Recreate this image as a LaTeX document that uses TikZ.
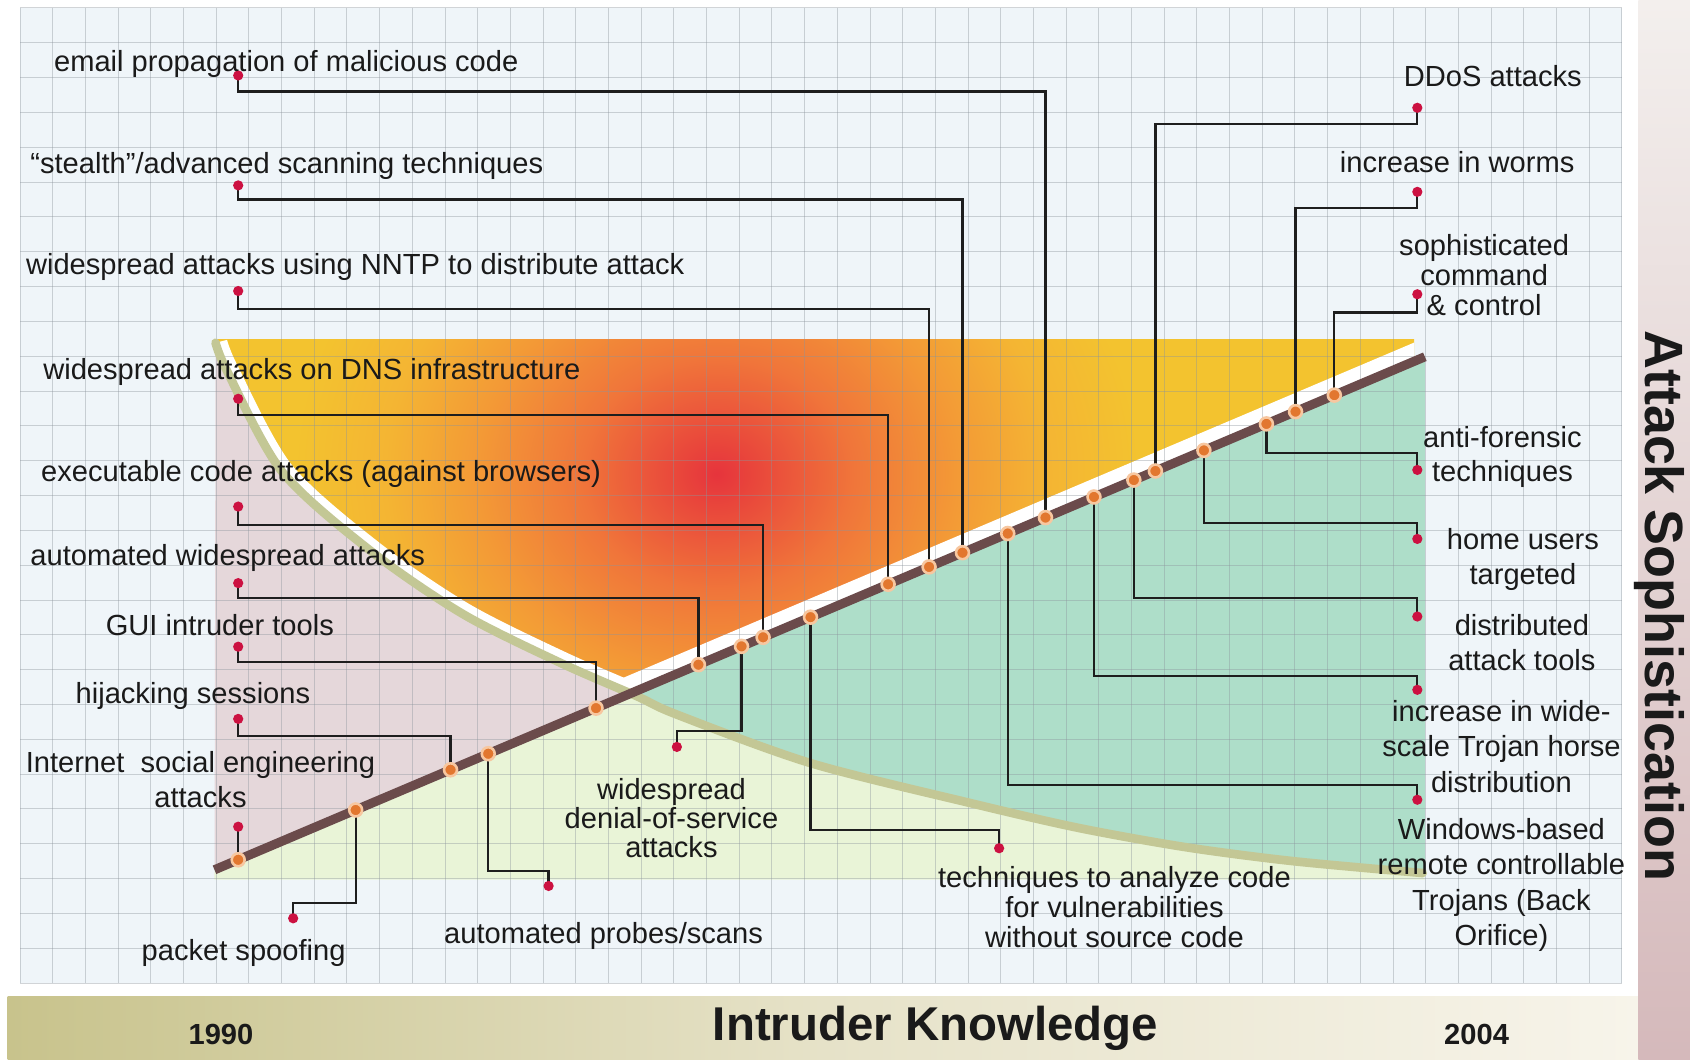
\documentclass[tikz,border=0pt]{standalone}
\usepackage{fontspec}
\setmainfont{Liberation Sans}
\usetikzlibrary{calc}

\definecolor{gridbg}{HTML}{EFF5F9}
\definecolor{gridln}{HTML}{8C949C}
\definecolor{pinkreg}{HTML}{E5D7DA}
\definecolor{tealreg}{HTML}{AEDEC9}
\definecolor{limereg}{HTML}{E9F4D7}
\definecolor{hred}{HTML}{E6343C}
\definecolor{hredb}{HTML}{EA4E3B}
\definecolor{horange}{HTML}{F0753A}
\definecolor{hamber}{HTML}{F39A36}
\definecolor{hgold}{HTML}{F4B533}
\definecolor{hyellow}{HTML}{F3C32F}
\definecolor{trend}{HTML}{6B4B4B}
\definecolor{olive}{HTML}{C3C795}
\definecolor{pinred}{HTML}{CC1141}
\definecolor{knotfill}{HTML}{E2772F}
\definecolor{knotring}{HTML}{F7C7A0}
\definecolor{wirec}{HTML}{1E1E1E}
\definecolor{ink}{HTML}{1A1A1A}
\definecolor{barL}{HTML}{C8C38C}
\definecolor{barM}{HTML}{E6E2C8}
\definecolor{barR}{HTML}{F7F4EA}
\definecolor{sideT}{HTML}{F3EFED}
\definecolor{sideB}{HTML}{D5B9BB}

\pgfdeclareradialshading{hotspot}{\pgfpointorigin}{color(0bp)=(hred); color(1.8bp)=(hredb); color(4.5bp)=(horange); color(8bp)=(hamber); color(11bp)=(hgold); color(14bp)=(hyellow); color(50bp)=(hyellow)}

\pgfdeclarelayer{back}
\pgfdeclarelayer{wires}
\pgfsetlayers{back,wires,main}

% centred multi-line label whose baseline is the first line
\newcommand\stacked[2]{\vtop{\fontsize{27}{#1}\selectfont\halign{\hfil##\hfil\cr#2\crcr}}}
% the falling boundary curve
\def\curvepath{plot[smooth] coordinates {(200,318) (211,345) (262,438) (345,512) (430,570) (520,615) (591,646) (628,663) (752,708) (900,745) (1000,768) (1100,786) (1200,799) (1320,810)}}

\begin{document}
\begin{tikzpicture}[x=1pt,y=-1pt,
  gridline/.style={draw=gridln, line width=0.9pt, opacity=0.4},
  wire/.style={draw=wirec, line width=2.1pt},
  pin/.style={circle, fill=pinred, inner sep=0pt, minimum size=9.5pt},
  knot/.style={circle, fill=knotfill, draw=knotring, line width=2.4pt, inner sep=0pt, minimum size=12pt},
  lbl/.style={font=\fontsize{27}{28}\selectfont, text=ink, inner sep=0pt},
  yearlbl/.style={font=\bfseries\fontsize{27}{27}\selectfont, text=ink, inner sep=0pt, anchor=base}]

\useasboundingbox (0,0) rectangle (1568,983);

\begin{pgfonlayer}{back}
  \fill[white] (0,0) rectangle (1568,983);
  % grid paper
  \fill[gridbg] (18.6,7.4) rectangle (1505,912);

  % pink region: above the trend line, left of the curve
  \begin{scope}
    \clip (199,807) -- (1322,331) -- (1322,290) -- (199,290) -- cycle;
    \fill[pinkreg] \curvepath -- (199,820) -- cycle;
  \end{scope}
  % teal region: below the trend line, above the curve
  \begin{scope}
    \clip (199,807) -- (1322,331) -- (1322,830) -- (199,830) -- cycle;
    \fill[tealreg] \curvepath -- (1322,810) -- (1322,300) -- (199,300) -- cycle;
  \end{scope}
  % light green region: below both
  \begin{scope}
    \clip (199,807) -- (1322,331) -- (1322,816) -- (199,816) -- cycle;
    \fill[limereg] \curvepath -- (1322,816) -- (199,816) -- cycle;
  \end{scope}
  % hot region above both
  \begin{scope}
    \clip (199,315) rectangle (1312,820);
    \clip (199,807) -- (1322,331) -- (1322,300) -- (199,300) -- cycle;
    \clip \curvepath -- (1340,810) -- (1340,300) -- (190,300) -- cycle;
    \shade[shading=hotspot] (-35,-160) rectangle (1365,1040);
    \draw[white, line width=32pt] (199,807) -- (1322,331);
    \draw[white, line width=22pt] \curvepath;
  \end{scope}

  % grid lines
  \foreach \i in {0,...,49} \draw[gridline] ({18.6+\i*30.33},7.4) -- ({18.6+\i*30.33},912);
  \foreach \j in {0,...,28} \draw[gridline] (18.6,{7.4+\j*32.31}) -- (1505,{7.4+\j*32.31});

  % curve and trend line
  \draw[olive, line width=8pt, line cap=round] \curvepath;
  \coordinate (dl) at (199,807);
  \coordinate (dr) at (1322,331);
  \draw[trend, line width=8.5pt] (dl) -- (dr);

  % axis bars
  \shade[left color=barL, right color=barR, middle color=barM] (7,925) rectangle (1520,983);
  \shade[top color=sideT, bottom color=sideB] (1520,0) rectangle (1568,983);
\end{pgfonlayer}

% markers on the trend line
\node[knot] (kA) at (970,480.2) {};
\node[knot] (kB) at (893,512.8) {};
\node[knot] (kC) at (862,526.0) {};
\node[knot] (kD) at (824,542.1) {};
\node[knot] (kE) at (708,591.3) {};
\node[knot] (kF) at (648,616.7) {};
\node[knot] (kG) at (553,657.0) {};
\node[knot] (kH) at (418,714.2) {};
\node[knot] (kI) at (221,797.7) {};
\node[knot] (kJ) at (330,751.5) {};
\node[knot] (kK) at (453,699.3) {};
\node[knot] (kL) at (688,599.7) {};
\node[knot] (kM) at (752,572.6) {};
\node[knot] (kN) at (1072,437.0) {};
\node[knot] (kO) at (1202,381.9) {};
\node[knot] (kP) at (1238,366.6) {};
\node[knot] (kQ) at (1175,393.3) {};
\node[knot] (kR) at (1117,417.9) {};
\node[knot] (kS) at (1052,445.4) {};
\node[knot] (kT) at (1015,461.1) {};
\node[knot] (kU) at (935,495.0) {};

% pins
\node[pin] (pA) at (221,70) {};
\node[pin] (pB) at (221,172) {};
\node[pin] (pC) at (221,270) {};
\node[pin] (pD) at (221,370) {};
\node[pin] (pE) at (221,470) {};
\node[pin] (pF) at (221,541) {};
\node[pin] (pG) at (221,600) {};
\node[pin] (pH) at (221,667) {};
\node[pin] (pI) at (221,767) {};
\node[pin] (pJ) at (272,852) {};
\node[pin] (pK) at (509,822) {};
\node[pin] (pL) at (628,693) {};
\node[pin] (pM) at (927,787) {};
\node[pin] (pN) at (1315,100) {};
\node[pin] (pO) at (1315,178) {};
\node[pin] (pP) at (1315,273) {};
\node[pin] (pQ) at (1315,436) {};
\node[pin] (pR) at (1315,500) {};
\node[pin] (pS) at (1315,572) {};
\node[pin] (pT) at (1315,640) {};
\node[pin] (pU) at (1315,742) {};

% connectors
\begin{pgfonlayer}{wires}
  \draw[wire] (pA.center) -- ++(0,15) -| (kA.center);
  \draw[wire] (pB.center) -- ++(0,13) -| (kB.center);
  \draw[wire] (pC.center) -- ++(0,17) -| (kC.center);
  \draw[wire] (pD.center) -- ++(0,15) -| (kD.center);
  \draw[wire] (pE.center) -- ++(0,17) -| (kE.center);
  \draw[wire] (pF.center) -- ++(0,14) -| (kF.center);
  \draw[wire] (pG.center) -- ++(0,14) -| (kG.center);
  \draw[wire] (pH.center) -- ++(0,16) -| (kH.center);
  \draw[wire] (pI.center) -- (kI.center);
  \draw[wire] (pJ.center) -- ++(0,-14) -| (kJ.center);
  \draw[wire] (pK.center) -- ++(0,-14) -| (kK.center);
  \draw[wire] (pL.center) -- ++(0,-15) -| (kL.center);
  \draw[wire] (pM.center) -- ++(0,-17) -| (kM.center);
  \draw[wire] (pN.center) -- ++(0,15) -| (kN.center);
  \draw[wire] (pO.center) -- ++(0,15) -| (kO.center);
  \draw[wire] (pP.center) -- ++(0,17) -| (kP.center);
  \draw[wire] (pQ.center) -- ++(0,-16) -| (kQ.center);
  \draw[wire] (pR.center) -- ++(0,-15) -| (kR.center);
  \draw[wire] (pS.center) -- ++(0,-17) -| (kS.center);
  \draw[wire] (pT.center) -- ++(0,-13) -| (kT.center);
  \draw[wire] (pU.center) -- ++(0,-14) -| (kU.center);
\end{pgfonlayer}

% labels, left column
\node[lbl, anchor=base west] (tA) at (50,66) {email propagation of malicious code};
\node[lbl, anchor=base west] (tB) at (28,161) {“stealth”/advanced scanning techniques};
\node[lbl, anchor=base west] (tC) at (24,255) {widespread attacks using NNTP to distribute attack};
\node[lbl, anchor=base west] (tD) at (40,352) {widespread attacks on DNS infrastructure};
\node[lbl, anchor=base west] (tE) at (38,447) {executable code attacks (against browsers)};
\node[lbl, anchor=base west] (tF) at (28,525) {automated widespread attacks};
\node[lbl, anchor=base west] (tG) at (98,590) {GUI intruder tools};
\node[lbl, anchor=base west] (tH) at (70,653) {hijacking sessions};
\node[lbl, anchor=base] (tI) at (186,717) {\stacked{32}{Internet\ \ social engineering\cr attacks}};

% labels, bottom row
\node[lbl, anchor=base] (tJ) at (226,891) {packet spoofing};
\node[lbl, anchor=base] (tK) at (560,875) {automated probes/scans};
\node[lbl, anchor=base] (tL) at (623,742) {\stacked{27}{widespread\cr denial-of-service\cr attacks}};
\node[lbl, anchor=base] (tM) at (1034,823) {\stacked{28}{techniques to analyze code\cr for vulnerabilities\cr without source code}};

% labels, right column
\node[lbl, anchor=base] (tN) at (1385,80) {DDoS attacks};
\node[lbl, anchor=base] (tO) at (1352,160) {increase in worms};
\node[lbl, anchor=base] (tP) at (1377,237) {\stacked{28}{sophisticated\cr command\cr \& control}};
\node[lbl, anchor=base] (tQ) at (1394,415) {\stacked{32}{anti-forensic\cr techniques}};
\node[lbl, anchor=base] (tR) at (1413,510) {\stacked{32}{home users\cr targeted}};
\node[lbl, anchor=base] (tS) at (1412,590) {\stacked{32}{distributed\cr attack tools}};
\node[lbl, anchor=base] (tT) at (1393,669) {\stacked{33}{increase in wide-\cr scale Trojan horse\cr distribution}};
\node[lbl, anchor=base] (tU) at (1393,779) {\stacked{32.7}{Windows-based\cr remote controllable\cr Trojans (Back\cr Orifice)}};

% axis titles
\node[font=\bfseries\fontsize{44}{44}\selectfont, text=ink, inner sep=0pt, anchor=base] (xaxis) at (868,965) {Intruder Knowledge};
\node[yearlbl] (ystart) at (205,969) {1990};
\node[yearlbl] (yend) at (1370,969) {2004};
\node[font=\bfseries\fontsize{50}{50}\selectfont, text=ink, inner sep=0pt, anchor=base, rotate=-90] (yaxis) at (1527,562) {Attack Sophistication};

\end{tikzpicture}
\end{document}
